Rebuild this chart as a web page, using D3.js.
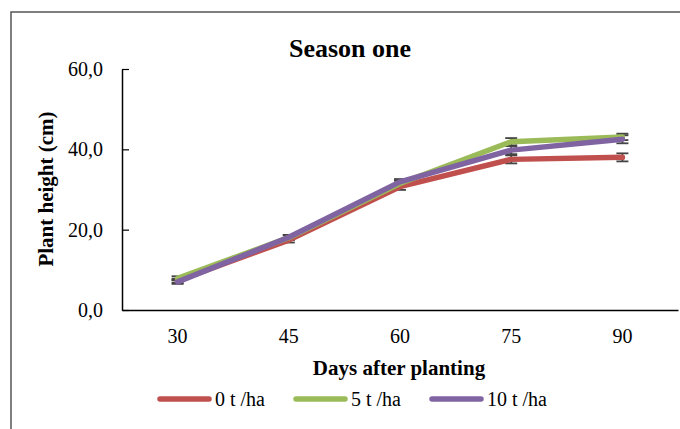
<!DOCTYPE html>
<html>
<head>
<meta charset="utf-8">
<script src="https://cdn.jsdelivr.net/npm/d3@7"></script>
<style>
  body { margin: 0; background: #fff; }
</style>
</head>
<body>
<div id="chart"></div>
<script>
const days = ['30', '45', '60', '75', '90']
const yTicks = [0, 20, 40, 60]
const seriesNames = ['0 t /ha', '5 t /ha', '10 t /ha']
const seriesColors = ['#C0504D', '#9BBB59', '#8064A2']
const values0 = [7.3, 17.4, 30.7, 37.5, 38.0]
const values5 = [7.9, 18.0, 31.5, 41.9, 43.1]
const values10 = [7.0, 18.1, 31.9, 39.8, 42.5]
const errors0 = [0.5, 0.6, 0.8, 1.0, 1.0]
const errors5 = [0.5, 0.6, 0.7, 0.9, 0.8]
const errors10 = [0.5, 0.6, 0.7, 1.0, 1.0]

const allValues = [values0, values5, values10]
const allErrors = [errors0, errors5, errors10]

const width = 680, height = 429
const margin = {top: 69, right: 2, bottom: 119, left: 122}
const serif = '"Liberation Serif"'

const svg = d3.select('#chart').append('svg')
  .attr('width', width).attr('height', height)

// outer frame, only its top and left edges fall inside the picture
svg.append('rect')
  .attr('x', 11).attr('y', 12)
  .attr('width', 800).attr('height', 600)
  .attr('fill', 'none').attr('stroke', '#555').attr('stroke-width', 1.5)

const x = d3.scaleBand().domain(days)
  .range([margin.left, width - margin.right]).padding(0)
const y = d3.scaleLinear().domain([0, 60])
  .range([height - margin.bottom, margin.top])

const fmt = d => d3.format('.1f')(d).replace('.', ',')

svg.append('g')
  .attr('transform', `translate(0,${height - margin.bottom})`)
  .call(d3.axisBottom(x).tickSize(0).tickPadding(19))
  .call(g => g.select('.domain').attr('stroke', '#000').attr('stroke-width', 1.5))
  .call(g => g.selectAll('text').attr('font-size', 20))

svg.append('g')
  .attr('transform', `translate(${margin.left},0)`)
  .call(d3.axisLeft(y).tickValues(yTicks).tickFormat(fmt).tickSizeInner(-7).tickSizeOuter(0).tickPadding(19))
  .call(g => g.select('.domain').attr('stroke', '#000').attr('stroke-width', 1.5))
  .call(g => g.selectAll('.tick line').attr('stroke', '#000').attr('stroke-width', 1.2))
  .call(g => g.selectAll('text').attr('font-size', 20))

const line = d3.line()
  .x((d, i) => x(days[i]) + x.bandwidth() / 2)
  .y(d => y(d))

allValues.forEach((vals, s) => {
  // error bars
  const eb = svg.append('g').attr('stroke', '#444').attr('stroke-width', 1.8)
  vals.forEach((v, i) => {
    const cx = x(days[i]) + x.bandwidth() / 2
    const e = allErrors[s][i]
    eb.append('line').attr('x1', cx).attr('x2', cx).attr('y1', y(v - e)).attr('y2', y(v + e))
    eb.append('line').attr('x1', cx - 6).attr('x2', cx + 6).attr('y1', y(v - e)).attr('y2', y(v - e))
    eb.append('line').attr('x1', cx - 6).attr('x2', cx + 6).attr('y1', y(v + e)).attr('y2', y(v + e))
  })
})

allValues.forEach((vals, s) => {
  svg.append('path')
    .datum(vals)
    .attr('d', line)
    .attr('fill', 'none')
    .attr('stroke', seriesColors[s])
    .attr('stroke-width', 5.5)
    .attr('stroke-linecap', 'round')
    .attr('stroke-linejoin', 'round')
})

svg.append('text')
  .attr('x', 350).attr('y', 57)
  .attr('text-anchor', 'middle')
  .attr('font-size', 26).attr('font-weight', 'bold')
  .text('Season one')

svg.append('text')
  .attr('transform', `translate(53,189) rotate(-90)`)
  .attr('text-anchor', 'middle')
  .attr('font-size', 21).attr('font-weight', 'bold')
  .text('Plant height (cm)')

svg.append('text')
  .attr('x', 399).attr('y', 375)
  .attr('text-anchor', 'middle')
  .attr('font-size', 21).attr('font-weight', 'bold')
  .text('Days after planting')

const legendX = [157, 293, 429]
const legend = svg.append('g')
seriesNames.forEach((name, s) => {
  legend.append('line')
    .attr('x1', legendX[s] + 3).attr('x2', legendX[s] + 52)
    .attr('y1', 399).attr('y2', 399)
    .attr('stroke', seriesColors[s]).attr('stroke-width', 5.5)
    .attr('stroke-linecap', 'round')
  legend.append('text')
    .attr('x', legendX[s] + 58).attr('y', 406)
    .attr('font-size', 20)
    .text(name)
})

// every text in Times-like serif, set inline so nothing overrides it
svg.selectAll('text').style('font-family', serif).style('fill', '#000')
</script>
</body>
</html>
